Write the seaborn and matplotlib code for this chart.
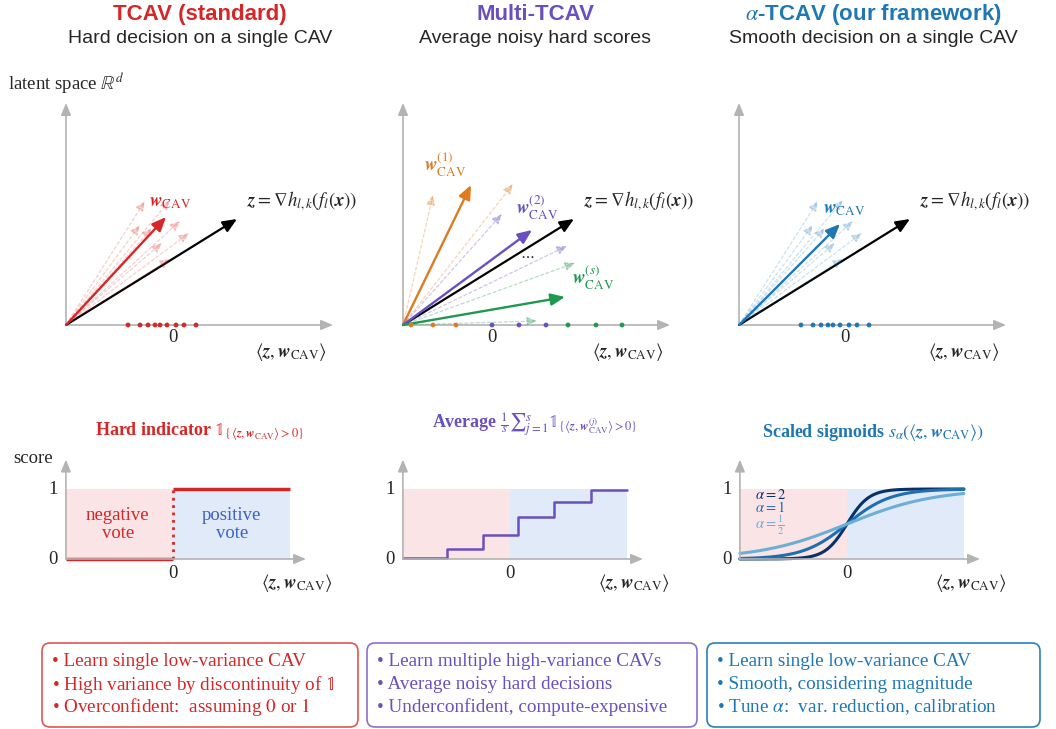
import numpy as np
import matplotlib
matplotlib.use('Agg')
import matplotlib.pyplot as plt
import seaborn as sns
from matplotlib.patches import FancyBboxPatch

sns.set_theme(style='white')
plt.rcParams['font.family'] = ['Liberation Serif', 'DejaVu Serif']
plt.rcParams['mathtext.fontset'] = 'stix'

RED = '#d62728'
PURPLE = '#6a4fc0'
BLUE = '#1f77b4'
ORANGE = '#de7b1f'
GREEN = '#1f9850'
GRAY = '#b3b3b3'
PINK_BG = '#fbe4e6'
BLUE_BG = '#e1eaf8'
SIG_COLORS = ['#08306b', '#1f6fb0', '#6baed6']

# latent-space vectors (1 unit = 100 px)
z_vec = (1.71, 1.06)
w_cav_std = (1.00, 1.08)
w_cav_alpha = (1.01, 1.01)
noisy_w = [(0.79, 1.24), (1.04, 1.25), (0.74, 1.00), (0.86, 0.97),
           (1.14, 1.04), (1.23, 0.92), (0.96, 0.82), (1.04, 0.66)]
proj_single = [0.62, 0.74, 0.82, 0.89, 0.94, 1.01, 1.10, 1.18, 1.30]
zero_top = [1.07, 0.89, 1.06]

multi_main = [(0.68, 1.40), (1.29, 0.95), (1.62, 0.28)]
multi_dashed = [[(0.30, 1.30), (1.10, 1.41)],
                [(0.99, 1.11), (1.64, 0.79)],
                [(1.72, 0.62), (1.34, 0.04)]]
multi_dots = [[0.08, 0.30, 0.53], [0.89, 1.16, 1.43], [1.65, 1.93, 2.19]]
multi_colors = [ORANGE, PURPLE, GREEN]
multi_labels = [r'$\mathbfit{w}_{\mathrm{CAV}}^{(1)}$',
                r'$\mathbfit{w}_{\mathrm{CAV}}^{(2)}$',
                r'$\mathbfit{w}_{\mathrm{CAV}}^{(s)}$']
multi_label_pos = [(0.42, 1.60), (1.34, 1.17), (1.90, 0.47)]

# score curves (1 unit = 70 px)
x_left, x_right = -1.53, 1.67
hard_x = [x_left, 0, 0, x_right]
hard_y = [0, 0, 1, 1]
step_x = [-1.53, -0.90, -0.39, 0.11, 0.63, 1.16, 1.67]
step_y = [0.02, 0.15, 0.34, 0.60, 0.82, 0.98, 0.98]
alphas = [2, 1, 0.5]
alpha_labels = [r'$\alpha=2$', r'$\alpha=1$', r'$\alpha=\frac{1}{2}$']

W, H = 1056, 729
fig = plt.figure(figsize=(W / 100, H / 100), dpi=100)


def arrow(ax, tip, color, lw=1.5, ls='-', alpha=1.0, start=(0, 0), hl=0.7, hw=0.3):
    ax.annotate('', xy=tip, xytext=start, annotation_clip=False,
                arrowprops=dict(arrowstyle=f'-|>,head_length={hl},head_width={hw}',
                                color=color, lw=lw, ls=ls, alpha=alpha,
                                shrinkA=0, shrinkB=0, mutation_scale=12))


def top_axes(ox, oy, zero):
    ax = fig.add_axes([(ox - 30) / W, (H - (oy + 30)) / H, 330 / W, 270 / H])
    ax.set_xlim(-0.3, 3.0)
    ax.set_ylim(-0.3, 2.4)
    ax.axis('off')
    arrow(ax, (2.67, 0), GRAY, lw=1.2, hl=0.6, hw=0.25)
    arrow(ax, (0, 2.22), GRAY, lw=1.2, hl=0.6, hw=0.25)
    ax.text(zero, -0.13, '0', ha='center', va='center', fontsize=13.5)
    ax.text(2.25, -0.27, r'$\langle \mathbfit{z}, \mathbfit{w}_{\mathrm{CAV}}\rangle$',
            ha='center', va='center', fontsize=13.5)
    arrow(ax, z_vec, 'black', lw=1.6)
    ax.text(1.81, 1.24, r'$\mathbfit{z} = \nabla h_{l,k}(f_l(\mathbfit{x}))$',
            ha='left', va='center', fontsize=13.5)
    return ax


def single_panel(ox, color, w):
    ax = top_axes(ox, 325, 1.07 if color == RED else 1.06)
    for t in noisy_w:
        arrow(ax, t, color, lw=0.9, ls=(0, (2.5, 2)), alpha=0.22, hl=0.5, hw=0.22)
    arrow(ax, w, color, lw=1.7)
    ax.text(w[0] + 0.04, w[1] + 0.14, r'$\mathbfit{w}_{\mathrm{CAV}}$',
            color=color, ha='center', va='center', fontsize=13.5)
    sns.scatterplot(x=proj_single, y=[0] * len(proj_single), ax=ax, color=color,
                    s=12, edgecolor='none', zorder=5, clip_on=False, legend=False)


single_panel(66, RED, w_cav_std)
single_panel(739, BLUE, w_cav_alpha)

ax2 = top_axes(403, 325, zero_top[1])
for col, main, dashed, dots, lab, lp in zip(multi_colors, multi_main, multi_dashed,
                                             multi_dots, multi_labels, multi_label_pos):
    for t in dashed:
        arrow(ax2, t, col, lw=0.9, ls=(0, (2.5, 2)), alpha=0.32, hl=0.5, hw=0.22)
    arrow(ax2, main, col, lw=1.7)
    ax2.text(lp[0], lp[1], lab, color=col, ha='center', va='center', fontsize=13.5)
    sns.scatterplot(x=dots, y=[0] * len(dots), ax=ax2, color=col, s=12,
                    edgecolor='none', zorder=5, clip_on=False, legend=False)
ax2.text(1.24, 0.70, r'$\cdots$', ha='center', va='center', fontsize=11)


def bottom_axes(zx):
    ax = fig.add_axes([(zx - 140) / W, (H - 594) / H, 301 / W, 154 / H])
    ax.set_xlim(-2.0, 2.3)
    ax.set_ylim(-0.5, 1.7)
    ax.axis('off')
    ax.fill_between([x_left, 0], 0, 1, color=PINK_BG, lw=0)
    ax.fill_between([0, x_right], 0, 1, color=BLUE_BG, lw=0)
    arrow(ax, (1.9, 0), GRAY, start=(x_left, 0), lw=1.2, hl=0.6, hw=0.25)
    arrow(ax, (x_left, 1.42), GRAY, start=(x_left, 0), lw=1.2, hl=0.6, hw=0.25)
    ax.text(0, -0.2, '0', ha='center', va='center', fontsize=13.5)
    ax.text(-1.71, 0, '0', ha='center', va='center', fontsize=13.5)
    ax.text(-1.71, 1.0, '1', ha='center', va='center', fontsize=13.5)
    ax.text(1.77, -0.35, r'$\langle \mathbfit{z}, \mathbfit{w}_{\mathrm{CAV}}\rangle$',
            ha='center', va='center', fontsize=13.5)
    return ax


b1 = bottom_axes(173)
b1.plot(hard_x[:2], hard_y[:2], color=RED, lw=2.5, solid_capstyle='butt')
b1.plot(hard_x[1:3], hard_y[1:3], color=RED, lw=2, ls=':')
b1.plot(hard_x[2:], hard_y[2:], color=RED, lw=2.5, solid_capstyle='butt')
b1.text(-0.79, 0.49, 'negative\nvote', color=RED, ha='center', va='center',
        fontsize=13.5, linespacing=1.1)
b1.text(0.84, 0.49, 'positive\nvote', color='#3a62c8', ha='center', va='center',
        fontsize=13.5, linespacing=1.1)
b1.text(-2.0, 1.43, 'score', ha='center', va='center', fontsize=13.5)

b2 = bottom_axes(510)
sns.lineplot(x=step_x, y=step_y, ax=b2, color=PURPLE, lw=1.8, drawstyle='steps-post')

b3 = bottom_axes(847)
xs = np.linspace(x_left, x_right, 300)
for a, col in zip(alphas, SIG_COLORS):
    sns.lineplot(x=xs, y=1 / (1 + np.exp(-3.2 * a * xs)), ax=b3, color=col, lw=2.2)
for lab, col, yy in zip(alpha_labels, SIG_COLORS, [0.92, 0.74, 0.48]):
    b3.text(-1.31, yy, lab, color=col, ha='left', va='center', fontsize=10.5)

# overlay in pixel coordinates for titles and boxes
ov = fig.add_axes([0, 0, 1, 1])
ov.set_xlim(0, W)
ov.set_ylim(H, 0)
ov.axis('off')
ov.patch.set_visible(False)

sans = ['Liberation Sans', 'DejaVu Sans']
for cx, title, sub, col in [(200, 'TCAV (standard)', 'Hard decision on a single CAV', RED),
                            (535, 'Multi-TCAV', 'Average noisy hard scores', PURPLE),
                            (873, r'$\alpha$-TCAV (our framework)', 'Smooth decision on a single CAV', BLUE)]:
    ov.text(cx, 14, title, color=col, family=sans, weight='bold', fontsize=16,
            ha='center', va='center')
    ov.text(cx, 38, sub, family=sans, fontsize=14, ha='center', va='center')

ov.text(8, 83, r'latent space $\mathbb{R}^d$', ha='left', va='center', fontsize=13.5)

ov.text(200, 432, r'Hard indicator $\mathbb{1}_{\{\langle \mathbfit{z},\mathbfit{w}_{\mathrm{CAV}}\rangle>0\}}$',
        color=RED, weight='bold', fontsize=13, ha='center', va='center')
ov.text(535, 425, r'Average $\frac{1}{s}{\sum}_{j=1}^{s}\mathbb{1}_{\{\langle \mathbfit{z},\mathbfit{w}_{\mathrm{CAV}}^{(j)}\rangle>0\}}$',
        color=PURPLE, weight='bold', fontsize=13, ha='center', va='center')
ov.text(873, 432, r'Scaled sigmoids $s_\alpha(\langle \mathbfit{z},\mathbfit{w}_{\mathrm{CAV}}\rangle)$',
        color=BLUE, weight='bold', fontsize=13, ha='center', va='center')

boxes = [(42, 358, '#e05555', RED, ['Learn single low-variance CAV',
                                    r'High variance by discontinuity of $\mathbb{1}$',
                                    r'Overconfident:  assuming $0$ or $1$']),
         (367, 697, '#8a70d0', PURPLE, ['Learn multiple high-variance CAVs',
                                        'Average noisy hard decisions',
                                        'Underconfident, compute-expensive']),
         (707, 1040, '#2a80bb', BLUE, ['Learn single low-variance CAV',
                                       'Smooth, considering magnitude',
                                       r'Tune $\alpha$:  var. reduction, calibration'])]
for x0, x1, edge, col, lines in boxes:
    ov.add_patch(FancyBboxPatch((x0, 643), x1 - x0, 84,
                                boxstyle='round,pad=0,rounding_size=8',
                                fc='none', ec=edge, lw=1.2))
    for j, line in enumerate(lines):
        ov.text(x0 + 10, 662 + 22.5 * j, '\u2022 ' + line, color=col, fontsize=13.8,
                ha='left', va='center')

fig.savefig('out.png', dpi=100)
